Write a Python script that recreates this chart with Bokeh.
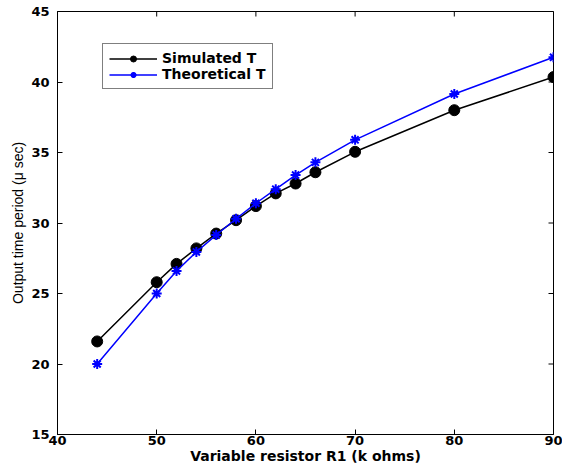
import math
from bokeh.plotting import figure
from bokeh.models import FixedTicker, Range1d, Legend, LegendItem
from bokeh.embed import file_html
from bokeh.resources import INLINE

# Data
r1_kohm = [44, 50, 52, 54, 56, 58, 60, 62, 64, 66, 70, 80, 90]
simulated_T = [21.6, 25.8, 27.1, 28.2, 29.25, 30.2, 31.2, 32.1, 32.8, 33.6, 35.05, 38.0, 40.35]
theoretical_T = [20.0, 25.0, 26.6, 27.95, 29.15, 30.3, 31.4, 32.4, 33.4, 34.3, 35.9, 39.15, 41.75]
x_ticks = [40, 50, 60, 70, 80, 90]
y_ticks = [15, 20, 25, 30, 35, 40, 45]

BOLD_FONT = "DejaVu Sans"

p = figure(width=562, height=466, output_backend="svg", toolbar_location=None,
           x_range=Range1d(x_ticks[0], x_ticks[-1]), y_range=Range1d(y_ticks[0], y_ticks[-1]),
           min_border_left=57, min_border_right=9, min_border_top=11, min_border_bottom=28)
p.xgrid.visible = False
p.ygrid.visible = False
p.outline_line_color = "black"
p.outline_line_width = 1
p.background_fill_color = "white"
p.border_fill_color = "white"

def style_axis(ax, ticks):
    ax.ticker = FixedTicker(ticks=ticks)
    ax.major_tick_in = 5
    ax.major_tick_out = 0
    ax.minor_tick_line_color = None
    ax.axis_line_color = "black"
    ax.major_tick_line_color = "black"
    ax.major_label_text_font = BOLD_FONT
    ax.major_label_text_font_style = "bold"
    ax.major_label_text_font_size = "13px"
    ax.major_label_text_color = "black"

xa = p.xaxis[0]
style_axis(xa, x_ticks)
xa.major_label_standoff = 1
xa.axis_label = "Variable resistor R1 (k ohms)"
xa.axis_label_text_font = BOLD_FONT
xa.axis_label_text_font_style = "bold"
xa.axis_label_text_font_size = "14px"
xa.axis_label_standoff = 0
xa.axis_label_text_color = "black"

ya = p.yaxis[0]
style_axis(ya, y_ticks)
ya.major_label_standoff = 8
ya.axis_label = "Output time period (\u03bc sec)"
ya.axis_label_text_font = "Liberation Sans"
ya.axis_label_text_font_style = "normal"
ya.axis_label_text_font_size = "14px"
ya.axis_label_standoff = 2
ya.axis_label_text_color = "black"

# inward tick marks on the top and right edges of the box (half of each dash is clipped by the frame)
p.scatter(x=x_ticks, y=[y_ticks[-1]] * len(x_ticks), marker="dash", angle=math.pi / 2,
          size=10, line_color="black", line_width=1)
p.scatter(x=[x_ticks[-1]] * len(y_ticks), y=y_ticks, marker="dash",
          size=10, line_color="black", line_width=1)

l1 = p.line(r1_kohm, simulated_T, line_color="black", line_width=1.5)
s1 = p.scatter(r1_kohm, simulated_T, marker="circle", size=11, fill_color="black", line_color="black")
l2 = p.line(r1_kohm, theoretical_T, line_color="#0000ff", line_width=1.5)
s2 = p.scatter(r1_kohm, theoretical_T, marker="asterisk", size=10, line_color="#0000ff", line_width=2)

legend = Legend(items=[LegendItem(label="Simulated T", renderers=[l1, s1]),
                       LegendItem(label="Theoretical T", renderers=[l2, s2])],
                location=(45, 345))
legend.label_text_font = BOLD_FONT
legend.label_text_font_style = "bold"
legend.label_text_font_size = "14px"
legend.label_text_color = "black"
legend.glyph_width = 48
legend.glyph_height = 15
legend.label_height = 15
legend.label_standoff = 5
legend.padding = 6
legend.spacing = 0
legend.margin = 0
legend.border_line_color = "black"
legend.border_line_width = 1
legend.background_fill_alpha = 1.0
p.add_layout(legend, "center")

open("out.html", "w").write(file_html(p, INLINE))
